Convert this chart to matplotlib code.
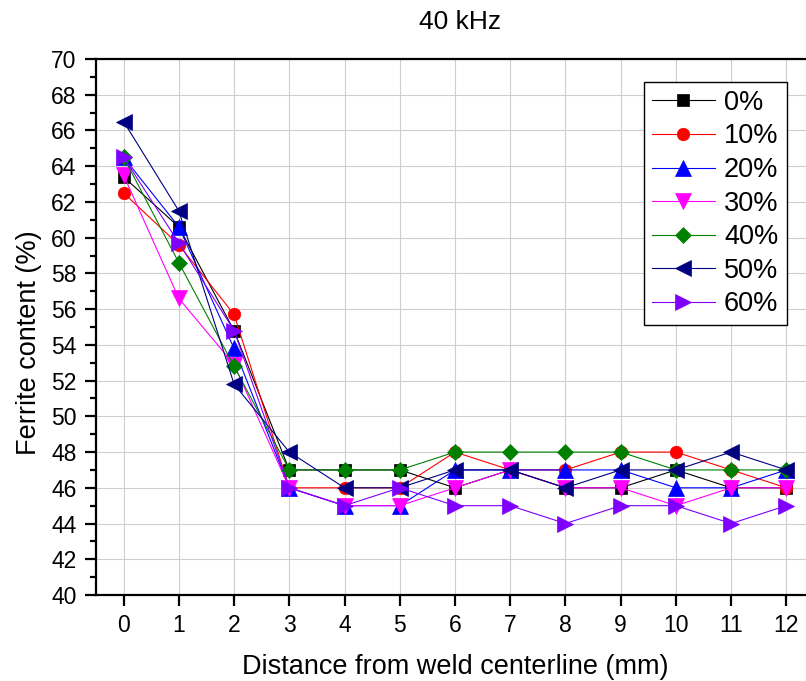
import matplotlib
matplotlib.use("Agg")
import matplotlib.pyplot as plt
from matplotlib.ticker import MultipleLocator

plt.rcParams['font.family'] = ['Liberation Sans', 'DejaVu Sans']

distance = [0, 1, 2, 3, 4, 5, 6, 7, 8, 9, 10, 11, 12]
labels = ['0%', '10%', '20%', '30%', '40%', '50%', '60%']

s0 = [63.4, 60.6, 54.8, 47, 47, 47, 46, 47, 46, 46, 47, 46, 46]
s10 = [62.5, 59.6, 55.7, 46, 46, 46, 48, 47, 47, 48, 48, 47, 46]
s20 = [64.5, 60.6, 53.8, 46, 45, 45, 47, 47, 47, 47, 46, 46, 47]
s30 = [63.5, 56.6, 52.9, 46, 45, 45, 46, 47, 46, 46, 45, 46, 46]
s40 = [64.5, 58.6, 52.8, 47, 47, 47, 48, 48, 48, 48, 47, 47, 47]
s50 = [66.5, 61.5, 51.8, 48, 46, 46, 47, 47, 46, 47, 47, 48, 47]
s60 = [64.5, 59.7, 54.8, 46, 45, 46, 45, 45, 44, 45, 45, 44, 45]
series = [s0, s10, s20, s30, s40, s50, s60]

colors = ['#000000', '#FF0000', '#0000FF', '#FF00FF', '#008000', '#000080', '#7F00FF']
markers = ['s', 'o', '^', 'v', 'D', '<', '>']
msizes = [8.2, 9, 11, 11, 8.6, 11, 11]

fig = plt.figure(figsize=(8.06, 6.81), dpi=100)
W, H = 806, 681
left, right, top, bottom = 96, 814, 59, 595
ax = fig.add_axes([left / W, 1 - bottom / H, (right - left) / W, (bottom - top) / H])

for ys, c, m, ms, lab in zip(series, colors, markers, msizes, labels):
    ax.plot(distance, ys, color=c, marker=m, markersize=ms, lw=0.8,
            markerfacecolor=c, markeredgecolor=c, markeredgewidth=0.5, label=lab)

ax.set_xlim(-0.5, 12.5)
ax.set_ylim(40, 70)
ax.xaxis.set_major_locator(MultipleLocator(1))
ax.yaxis.set_major_locator(MultipleLocator(2))
ax.yaxis.set_minor_locator(MultipleLocator(1))

ax.grid(True, which='major', color='#CFCFCF', lw=0.8)
ax.set_axisbelow(True)

for sp in ['left', 'bottom', 'top']:
    ax.spines[sp].set_linewidth(1.6)
    ax.spines[sp].set_color('black')
ax.spines['right'].set_visible(False)

ax.tick_params(axis='both', which='major', direction='out', length=8, width=1.6,
               labelsize=16.5, top=False, right=False, pad=6)
ax.tick_params(axis='y', which='minor', direction='out', length=4.5, width=1.6)
ax.tick_params(axis='x', which='minor', bottom=False)

ax.set_xlabel('Distance from weld centerline (mm)', fontsize=19.5, labelpad=12)
ax.set_ylabel('Ferrite content (%)', fontsize=19.5)
ax.yaxis.set_label_coords(-0.075, 0.47)

fig.text(460 / W, 1 - 22 / H, '40 kHz', fontsize=19, ha='center', va='center')

leg = ax.legend(loc='upper right', bbox_to_anchor=(786.7 / W, 1 - 81.7 / H),
                bbox_transform=fig.transFigure, borderaxespad=0, fontsize=19.5,
                frameon=True, fancybox=False, framealpha=1, edgecolor='black',
                handlelength=2.3, handletextpad=0.35, labelspacing=0.28, borderpad=0.3)
leg.get_frame().set_linewidth(1.0)

fig.savefig('out.png', dpi=100)
